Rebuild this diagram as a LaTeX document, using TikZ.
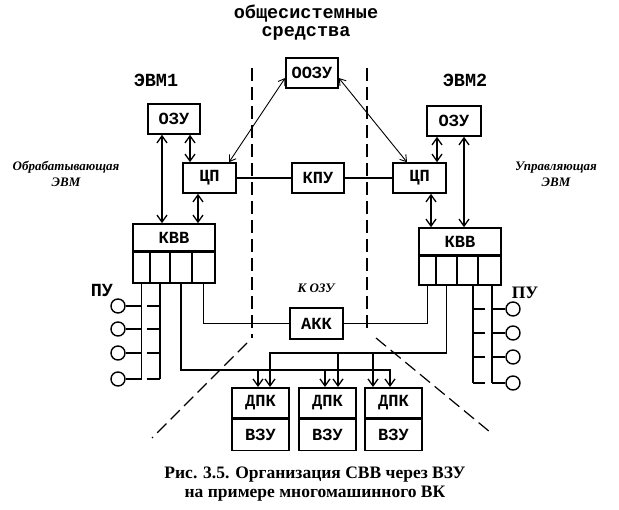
\documentclass[tikz,border=0pt]{standalone}
\usepackage{fontspec}
\setmainfont{Liberation Serif}
\newfontfamily\monofont{Liberation Mono}
\usetikzlibrary{arrows.meta,calc}

\begin{document}
\begin{tikzpicture}[x=1pt,y=-1pt,
  box/.style={draw,rectangle,line width=1.6pt,inner sep=0pt,font=\monofont\bfseries\fontsize{17}{17}\selectfont},
  cell/.style={draw,rectangle,line width=1.6pt,inner sep=0pt},
  pu/.style={draw,circle,line width=1.4pt,minimum size=14pt,inner sep=0pt},
  wire/.style={line width=1.3pt},
  dbl/.style={line width=1.3pt,{Straight Barb[length=7pt,width=10pt]}-{Straight Barb[length=7pt,width=10pt]}},
  thindbl/.style={line width=0.9pt,{Straight Barb[length=6pt,width=8pt]}-{Straight Barb[length=6pt,width=8pt]}},
  arr/.style={line width=1.3pt,-{Straight Barb[length=7pt,width=10pt]}},
  border/.style={line width=1.2pt,dash pattern=on 13pt off 6pt},
  lbl/.style={font=\monofont\bfseries\fontsize{18.5}{18}\selectfont},
  side/.style={font=\bfseries\itshape\fontsize{13}{16}\selectfont,align=center},
]
  \useasboundingbox (0,0) rectangle (619,510);

  \node[lbl,align=center] (title) at (306,23) {общесистемные\\средства};
  \node[lbl] (evm1) at (156,80) {ЭВМ1};
  \node[lbl] (evm2) at (465,80) {ЭВМ2};
  \node[side] (lab1) at (66,174) {Обрабатывающая\\ЭВМ};
  \node[side] (lab2) at (556,174) {Управляющая\\ЭВМ};
  \node[lbl] (pu1) at (102,290) {ПУ};
  \node[font=\bfseries\fontsize{17.5}{18}\selectfont] (pu2) at (525,293) {ПУ};
  \node[font=\bfseries\itshape\fontsize{13}{13}\selectfont] (kozu) at (316,288) {К ОЗУ};
  \node[font=\bfseries\fontsize{17.5}{18.5}\selectfont,align=center] (cap) at (315,484)
    {Рис. 3.5. Организация СВВ через ВЗУ\\на примере многомашинного ВК};

  \node[box,minimum width=52pt,minimum height=30pt] (oozu) at (312,73) {ООЗУ};
  \node[box,minimum width=52pt,minimum height=30pt] (ozu1) at (174,119) {ОЗУ};
  \node[box,minimum width=54pt,minimum height=30pt] (ozu2) at (454,121) {ОЗУ};
  \node[box,minimum width=53pt,minimum height=30pt] (cp1) at (209.5,178) {ЦП};
  \node[box,minimum width=53pt,minimum height=30pt] (cp2) at (419.5,178) {ЦП};
  \node[box,minimum width=52pt,minimum height=30pt] (kpu) at (318,178) {КПУ};
  \node[box,minimum width=82pt,minimum height=27pt] (kvv1) at (174,237.5) {КВВ};
  \node[box,minimum width=82pt,minimum height=27pt] (kvv2) at (460,241.5) {КВВ};
  \foreach \n/\x/\w in {a/141.5/17pt,b/160/20pt,c/181/22pt,d/203.5/23pt}
    \node[cell,minimum width=\w,minimum height=31pt,anchor=north] (k1\n) at (\x,251) {};
  \foreach \n/\x/\w in {a/427.5/17pt,b/446.5/21pt,c/467.5/21pt,d/489.5/23pt}
    \node[cell,minimum width=\w,minimum height=29pt,anchor=north] (k2\n) at (\x,255) {};
  \node[box,minimum width=53pt,minimum height=31pt] (akk) at (316.5,323.5) {АКК};
  \foreach \i/\x in {1/260.5,2/327.5,3/393.5} {
    \node[box,minimum width=57pt,minimum height=30pt,anchor=north] (dpk\i) at (\x,387) {ДПК};
    \node[box,minimum width=57pt,minimum height=31pt,anchor=north] (vzu\i) at (dpk\i.south) {ВЗУ};
  }
  \foreach \i/\y in {1/306,2/329,3/353,4/379}
    \node[pu] (pl\i) at (118,\y) {};
  \foreach \i/\y in {1/309,2/333,3/357,4/383}
    \node[pu] (pr\i) at (513,\y) {};

  \draw[border] (252,68) -- (252,338);
  \draw[border] (247,343) -- (152,438);
  \draw[border] (367,68) -- (367,333);
  \draw[border] (376,338) -- (490,432);

  \draw[thindbl] ([yshift=-5pt]oozu.west) -- ([xshift=19.5pt]cp1.north);
  \draw[thindbl] ([yshift=-5pt]oozu.east) -- ([xshift=-12.5pt]cp2.north);
  \draw[wire] (cp1) -- (kpu) -- (cp2);
  \draw[dbl] ([xshift=-12pt]ozu1.south) -- ([xshift=-12pt]ozu1.south |- kvv1.north);
  \draw[dbl] ([xshift=16pt]ozu1.south) -- ([xshift=16pt]ozu1.south |- cp1.north);
  \draw[dbl] ([xshift=-11.5pt]cp1.south) -- ([xshift=-11.5pt]cp1.south |- kvv1.north);
  \draw[dbl] ([xshift=-17pt]ozu2.south) -- ([xshift=-17pt]ozu2.south |- cp2.north);
  \draw[dbl] ([xshift=10pt]ozu2.south) -- ([xshift=10pt]ozu2.south |- kvv2.north);
  \draw[dbl] ([xshift=11.5pt]cp2.south) -- ([xshift=11.5pt]cp2.south |- kvv2.north);

  \draw[wire] (k1a.south) -- (k1a.south |- pl4.east);
  \draw[wire] (k1b.south) -- (k1b.south |- pl4.east);
  \foreach \i in {1,...,4} {
    \draw[wire] (pl\i.east) -- (pl\i.east -| k1a.south);
    \draw[wire] ($(pl\i.east -| k1a.south)+(5,0)$) -- (pl\i.east -| k1b.south);
  }
  \coordinate (r1) at ($(k2c.south)+(5.5,0)$);
  \coordinate (r2) at ($(k2d.south)+(2.5,0)$);
  \draw[wire] (r1) -- (r1 |- pr4.west);
  \draw[wire] (r2) -- (r2 |- pr4.west);
  \foreach \i in {1,...,4} {
    \draw[wire] (pr\i.west) -- (pr\i.west -| r2);
    \draw[wire] (pr\i.west -| r1) -- ($(pr\i.west -| r1)+(12,0)$);
  }

  \draw[wire] (k1d.south) |- (akk.west);
  \draw[wire] (k2a.south) |- (akk.east);

  \coordinate (ubus) at (0,353);
  \coordinate (lbus) at (0,370);
  \draw[arr] (k2b.south) |- ([xshift=9.5pt]dpk1.north |- ubus) -- ([xshift=9.5pt]dpk1.north);
  \draw[arr] ([xshift=10.5pt]dpk2.north |- ubus) -- ([xshift=10.5pt]dpk2.north);
  \draw[arr] ([xshift=-20.5pt]dpk3.north |- ubus) -- ([xshift=-20.5pt]dpk3.north);
  \draw[arr] (k1c.south) |- ([xshift=-3.5pt]dpk3.north |- lbus) -- ([xshift=-3.5pt]dpk3.north);
  \draw[arr] ([xshift=-2.5pt]dpk1.north |- lbus) -- ([xshift=-2.5pt]dpk1.north);
  \draw[arr] ([xshift=-2.5pt]dpk2.north |- lbus) -- ([xshift=-2.5pt]dpk2.north);
\end{tikzpicture}
\end{document}
